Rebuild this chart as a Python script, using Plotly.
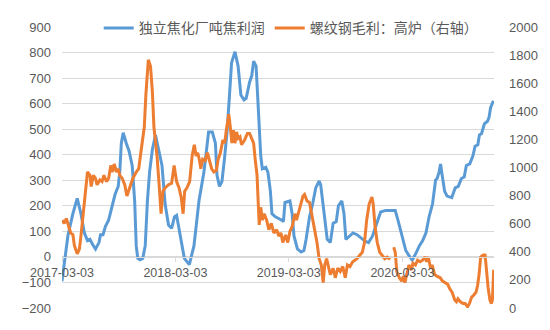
import plotly.graph_objects as go

# ---- data ----
coke_dates = [
    "2017-03-03", "2017-03-17", "2017-03-22", "2017-04-07", "2017-04-21", "2017-05-03", "2017-05-14", "2017-05-24",
    "2017-06-01", "2017-06-09", "2017-06-19", "2017-06-30", "2017-07-05", "2017-07-13", "2017-07-21", "2017-07-31",
    "2017-08-13", "2017-08-21", "2017-08-31", "2017-09-05", "2017-09-10", "2017-09-16", "2017-09-26", "2017-10-05",
    "2017-10-15", "2017-10-23", "2017-10-28", "2017-11-02", "2017-11-09", "2017-11-18", "2017-11-26", "2017-12-03",
    "2017-12-10", "2017-12-19", "2017-12-29", "2018-01-09", "2018-01-19", "2018-01-29", "2018-02-09", "2018-02-19",
    "2018-02-28", "2018-03-07", "2018-04-01", "2018-04-17", "2018-05-02", "2018-05-18", "2018-06-03", "2018-06-18",
    "2018-06-30", "2018-07-10", "2018-07-15", "2018-07-23", "2018-07-31", "2018-08-08", "2018-08-16", "2018-08-23",
    "2018-08-31", "2018-09-11", "2018-09-21", "2018-09-30", "2018-10-10", "2018-10-17", "2018-10-28", "2018-11-04",
    "2018-11-10", "2018-11-18", "2018-11-25", "2018-12-03", "2018-12-08", "2018-12-19", "2018-12-26", "2019-01-03",
    "2019-01-08", "2019-01-19", "2019-02-09", "2019-02-14", "2019-02-19", "2019-03-02", "2019-03-07", "2019-03-14",
    "2019-03-20", "2019-03-31", "2019-04-12", "2019-04-21", "2019-04-28", "2019-05-09", "2019-05-19", "2019-05-29",
    "2019-06-09", "2019-06-14", "2019-06-24", "2019-07-05", "2019-07-15", "2019-07-24", "2019-08-03", "2019-08-10",
    "2019-08-21", "2019-08-28", "2019-09-03", "2019-09-14", "2019-09-26", "2019-10-09", "2019-10-22", "2019-11-02",
    "2019-11-15", "2019-11-28", "2019-12-08", "2019-12-24", "2020-01-09", "2020-02-04", "2020-02-09", "2020-02-19",
    "2020-03-01", "2020-03-14", "2020-03-27", "2020-04-04", "2020-04-15", "2020-04-27", "2020-05-07", "2020-05-18",
    "2020-05-28", "2020-06-08", "2020-06-18", "2020-06-23", "2020-06-29", "2020-07-04", "2020-07-09", "2020-07-17",
    "2020-07-25", "2020-08-09", "2020-08-20", "2020-08-30", "2020-09-09", "2020-09-18", "2020-09-25", "2020-10-06",
    "2020-10-16", "2020-10-23", "2020-11-01", "2020-11-06", "2020-11-13", "2020-11-22", "2020-12-02", "2020-12-07",
    "2020-12-12", "2020-12-21",
]
coke_profit = [
    -95, 44, 83, 169, 229, 169, 94, 64,
    69, 50, 31, 56, 87, 87, 120, 144,
    207, 245, 276, 332, 445, 486, 445, 414,
    358, 219, 44, -6, -11, -6, 44, 219,
    332, 420, 477, 420, 358, 207, 125, 112,
    157, 163, -6, -30, 44, 219, 332, 489,
    489, 445, 320, 276, 295, 383, 483, 609,
    760, 803, 747, 634, 615, 621, 684, 709,
    766, 747, 571, 395, 345, 351, 332, 257,
    169, 157, 144, 138, 213, 219, 219, 169,
    82, 31, 19, 25, 69, 157, 207, 270,
    297, 282, 169, 69, 56, 132, 138, 200,
    219, 169, 69, 82, 94, 87, 75, 63,
    56, 82, 119, 176, 182, 184, 182, 138,
    82, 25, 0, -12, 13, 44, 63, 94,
    157, 207, 301, 307, 332, 364, 320, 257,
    238, 232, 270, 276, 307, 313, 358, 364,
    395, 433, 439, 477, 483, 521, 531, 546,
    584, 611,
]

rebar_dates = [
    "2017-03-03", "2017-03-10", "2017-03-17", "2017-03-25", "2017-03-31", "2017-04-07", "2017-04-12", "2017-04-21",
    "2017-04-28", "2017-05-03", "2017-05-11", "2017-05-19", "2017-05-24", "2017-06-01", "2017-06-05", "2017-06-12",
    "2017-06-19", "2017-06-24", "2017-07-03", "2017-07-10", "2017-07-16", "2017-07-24", "2017-07-31", "2017-08-07",
    "2017-08-13", "2017-08-18", "2017-08-26", "2017-08-31", "2017-09-05", "2017-09-13", "2017-09-21", "2017-09-28",
    "2017-10-06", "2017-10-17", "2017-10-28", "2017-11-05", "2017-11-09", "2017-11-15", "2017-11-23", "2017-11-28",
    "2017-12-06", "2017-12-13", "2017-12-19", "2017-12-24", "2018-01-03", "2018-01-09", "2018-01-16", "2018-01-22",
    "2018-01-29", "2018-02-09", "2018-02-19", "2018-02-27", "2018-03-07", "2018-03-15", "2018-03-22", "2018-03-28",
    "2018-04-02", "2018-04-09", "2018-04-18", "2018-04-26", "2018-05-03", "2018-05-09", "2018-05-14", "2018-05-19",
    "2018-05-24", "2018-05-30", "2018-06-07", "2018-06-14", "2018-06-19", "2018-06-28", "2018-07-05", "2018-07-13",
    "2018-07-19", "2018-07-26", "2018-08-03", "2018-08-09", "2018-08-14", "2018-08-22", "2018-08-27", "2018-09-01",
    "2018-09-06", "2018-09-11", "2018-09-16", "2018-09-21", "2018-09-27", "2018-10-02", "2018-10-12", "2018-10-21",
    "2018-10-28", "2018-11-04", "2018-11-10", "2018-11-15", "2018-11-21", "2018-11-25", "2018-11-28", "2018-12-03",
    "2018-12-08", "2018-12-14", "2018-12-22", "2018-12-29", "2019-01-06", "2019-01-14", "2019-01-23", "2019-01-30",
    "2019-02-06", "2019-02-12", "2019-02-21", "2019-02-28", "2019-03-07", "2019-03-14", "2019-03-23", "2019-03-28",
    "2019-04-04", "2019-04-10", "2019-04-18", "2019-04-23", "2019-05-01", "2019-05-09", "2019-05-14", "2019-05-24",
    "2019-06-02", "2019-06-09", "2019-06-16", "2019-06-22", "2019-06-27", "2019-07-03", "2019-07-10", "2019-07-15",
    "2019-07-24", "2019-07-31", "2019-08-08", "2019-08-16", "2019-08-24", "2019-09-01", "2019-09-08", "2019-09-16",
    "2019-09-25", "2019-10-02", "2019-10-09", "2019-10-17", "2019-10-26", "2019-11-02", "2019-11-09", "2019-11-17",
    "2019-11-26", "2019-11-30", "2019-12-06", "2019-12-13", "2019-12-21", "2019-12-29", "2020-01-06", "2020-01-14",
    "2020-01-24", "2020-01-29", "2020-02-04", "2020-02-09", "2020-02-14", "2020-02-22", "2020-03-01", "2020-03-06",
    "2020-03-11", "2020-03-18", "2020-03-24", "2020-04-01", "2020-04-06", "2020-04-14", "2020-04-21", "2020-04-29",
    "2020-05-07", "2020-05-15", "2020-05-20", "2020-05-25", "2020-06-02", "2020-06-07", "2020-06-15", "2020-06-22",
    "2020-07-03", "2020-07-10", "2020-07-18", "2020-07-27", "2020-08-03", "2020-08-10", "2020-08-19", "2020-08-24",
    "2020-08-29", "2020-09-06", "2020-09-14", "2020-09-21", "2020-09-29", "2020-10-05", "2020-10-12", "2020-10-18",
    "2020-10-26", "2020-10-31", "2020-11-05", "2020-11-10", "2020-11-16", "2020-11-21", "2020-11-24", "2020-11-29",
    "2020-12-04", "2020-12-10", "2020-12-15", "2020-12-18", "2020-12-22",
]
rebar_margin = [
    625, 603, 637, 580, 534, 523, 443, 386,
    420, 512, 671, 831, 968, 945, 865, 945,
    922, 877, 911, 900, 945, 900, 922, 1014,
    968, 1025, 968, 991, 945, 922, 877, 797,
    854, 922, 968, 991, 1059, 1173, 1288, 1516,
    1767, 1721, 1539, 1288, 1082, 900, 671, 831,
    854, 877, 888, 1014, 900, 854, 785, 671,
    831, 854, 900, 1082, 1162, 1082, 1105, 1059,
    991, 1059, 1048, 1105, 1059, 991, 968, 980,
    1059, 1105, 1196, 1173, 1265, 1379, 1288, 1173,
    1265, 1173, 1253, 1208, 1219, 1162, 1196, 1242,
    1242, 1196, 1173, 1059, 945, 740, 591, 717,
    625, 671, 625, 557, 603, 534, 557, 512,
    534, 466, 520, 466, 546, 580, 671, 625,
    683, 740, 797, 808, 762, 751, 694, 580,
    466, 351, 306, 180, 306, 351, 283, 238,
    283, 215, 283, 260, 295, 215, 306, 295,
    329, 340, 351, 374, 397, 466, 625, 740,
    790, 740, 580, 466, 397, 374, 351, 362,
    347, None, 432, 397, 260, 215, 192, 227,
    180, 260, 306, 272, 318, 306, 340, 329,
    340, 363, 329, 363, 283, 306, 238, 227,
    215, 192, 180, 169, 135, 112, 55, 44,
    66, 44, 32, 32, 9, 32, 78, 89,
    112, 158, 238, 363, 374, 363, 386, 260,
    146, 55, 32, 60, 272,
]

tick_dates = ["2017-03-03", "2018-03-03", "2019-03-03", "2020-03-03"]
series_names = ["独立焦化厂吨焦利润", "螺纹钢毛利：高炉（右轴）"]

assert len(coke_dates) == len(coke_profit)
assert len(rebar_dates) == len(rebar_margin)

# ---- styling ----
BLUE = "#5B9BD5"
ORANGE = "#ED7D31"
GRID = "#D9D9D9"
TXT = "#595959"
NUM_FONT = "Liberation Sans"
CJK_FONT = "Noto Sans CJK SC"

left_range = [-200, 900]
right_range = [0, 2000]

fig = go.Figure()
fig.add_trace(go.Scatter(
    x=coke_dates, y=coke_profit, name=series_names[0], mode="lines",
    line=dict(color=BLUE, width=3), yaxis="y",
))
fig.add_trace(go.Scatter(
    x=rebar_dates, y=rebar_margin, name=series_names[1], mode="lines",
    line=dict(color=ORANGE, width=3), yaxis="y2", connectgaps=False,
))

zero_pos = (0 - left_range[0]) / (left_range[1] - left_range[0])

fig.update_layout(
    width=550, height=330,
    margin=dict(l=62, r=44, t=16, b=22),
    paper_bgcolor="white", plot_bgcolor="white",
    showlegend=True,
    legend=dict(
        orientation="h", x=0.085, xanchor="left", y=0.995, yanchor="middle",
        bgcolor="rgba(0,0,0,0)", font=dict(family=CJK_FONT, size=14, color=TXT),
        itemwidth=30, tracegroupgap=0,
    ),
    xaxis=dict(
        type="date", range=["2017-03-03", "2020-12-23"],
        tickvals=tick_dates, ticktext=tick_dates,
        showgrid=False, zeroline=False,
        showline=True, linecolor=GRID, linewidth=1,
        ticks="outside", ticklen=4, tickcolor=GRID,
        anchor="free", position=zero_pos,
        tickfont=dict(family=NUM_FONT, size=12.5, color=TXT),
    ),
    yaxis=dict(
        range=left_range, dtick=100, tick0=0,
        showgrid=True, gridcolor=GRID, gridwidth=1, zeroline=False,
        showline=False, ticks="", ticklabelstandoff=10,
        tickfont=dict(family=NUM_FONT, size=13, color=TXT),
    ),
    yaxis2=dict(
        range=right_range, dtick=200, tick0=0,
        overlaying="y", side="right", anchor="x",
        showgrid=False, zeroline=False, showline=False, ticks="",
        ticklabelstandoff=14,
        tickfont=dict(family=NUM_FONT, size=13, color=TXT),
    ),
)

fig.write_html("out.html")
